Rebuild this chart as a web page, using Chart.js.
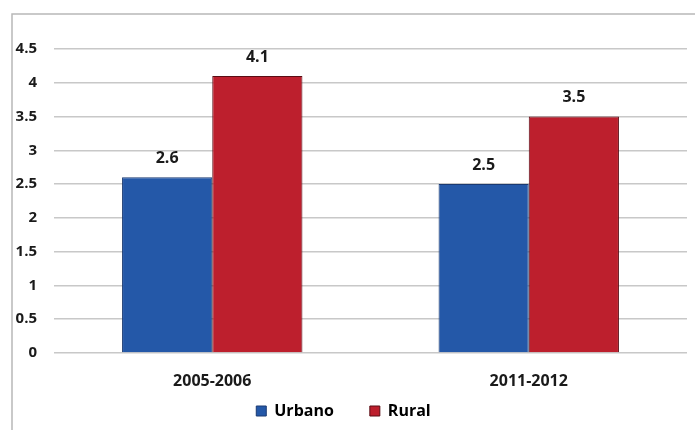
<!DOCTYPE html>
<html>
<head>
<meta charset="utf-8">
<script src="https://cdn.jsdelivr.net/npm/chart.js@4/dist/chart.umd.min.js"></script>
<style>
  html, body { margin: 0; padding: 0; background: #fff; }
  #wrap { width: 695px; height: 430px; position: relative; }
</style>
</head>
<body>
<div id="wrap"><canvas id="bars"></canvas></div>
<script>
const periods = ['2005-2006', '2011-2012'];
const urbano = [2.6, 2.5];
const rural = [4.1, 3.5];
const seriesNames = ['Urbano', 'Rural'];

const FONT = "'Open Sans', sans-serif";

// horizontal shading so the bars look rounded
function barFill(dark, mid, light) {
  return (ctx) => {
    const el = ctx.element;
    const chart = ctx.chart;
    if (!el || !chart.chartArea || !Number.isFinite(el.x) || !Number.isFinite(el.width)) return mid;
    const x0 = el.x - el.width / 2, x1 = el.x + el.width / 2;
    const g = chart.ctx.createLinearGradient(x0, 0, x1, 0);
    g.addColorStop(0, dark);
    g.addColorStop(0.06, mid);
    g.addColorStop(0.5, light);
    g.addColorStop(0.92, mid);
    g.addColorStop(1, dark);
    return g;
  };
}

// thin frame on the top and left of the picture
const frameLines = {
  id: 'frameLines',
  beforeDraw(chart) {
    const c = chart.ctx;
    c.save();
    c.strokeStyle = '#b8b8b8';
    c.lineWidth = 1.5;
    c.beginPath();
    c.moveTo(12, chart.height);
    c.lineTo(12, 14);
    c.lineTo(chart.width, 14);
    c.stroke();
    c.restore();
  }
};

// values above each bar, and the period names under the axis
// (drawn here because the x axis box is kept thin to leave room for the legend)
const textLabels = {
  id: 'textLabels',
  afterDatasetsDraw(chart) {
    const c = chart.ctx;
    const xs = chart.scales.x;
    c.save();
    c.font = 'bold 16px ' + FONT;
    c.fillStyle = '#1a1a1a';
    c.textAlign = 'center';
    c.textBaseline = 'bottom';
    chart.data.datasets.forEach((ds, i) => {
      chart.getDatasetMeta(i).data.forEach((bar, j) => {
        c.fillText(ds.data[j].toFixed(1), bar.x, bar.y - 11);
      });
    });
    c.textBaseline = 'middle';
    chart.data.labels.forEach((lab, i) => {
      c.fillText(lab, xs.getPixelForValue(i), chart.chartArea.bottom + 28);
    });
    c.restore();
  }
};

new Chart(document.getElementById('bars'), {
  type: 'bar',
  data: {
    labels: periods,
    datasets: [
      {
        label: seriesNames[0],
        data: urbano,
        backgroundColor: barFill('#1b3f7c', '#2458a8', '#2e68bf'),
        borderColor: '#1a3a72',
        borderWidth: 1,
        categoryPercentage: 0.57,
        barPercentage: 1.0
      },
      {
        label: seriesNames[1],
        data: rural,
        backgroundColor: barFill('#6e1018', '#bd1f2d', '#cc2534'),
        borderColor: '#5a0d14',
        borderWidth: 1,
        categoryPercentage: 0.57,
        barPercentage: 1.0
      }
    ]
  },
  options: {
    responsive: true,
    maintainAspectRatio: false,
    animation: false,
    layout: { padding: { top: 49, right: 8, left: 0, bottom: 1 } },
    scales: {
      x: {
        afterFit: (s) => { s.height = 14; },
        grid: { display: false },
        border: { display: false },
        ticks: { display: false }
      },
      y: {
        min: 0,
        max: 4.5,
        afterFit: (s) => { s.width = 54; },
        grid: { color: '#c8c8c8', lineWidth: 1.5, drawTicks: false },
        border: { display: false },
        ticks: {
          stepSize: 0.5,
          padding: 17,
          color: '#1a1a1a',
          font: { family: FONT, size: 15, weight: 'bold' },
          callback: (v) => String(v)
        }
      }
    },
    plugins: {
      tooltip: { enabled: false },
      legend: {
        position: 'bottom',
        labels: {
          color: '#1a1a1a',
          boxWidth: 10,
          boxHeight: 10,
          padding: 36,
          font: { family: FONT, size: 16, weight: 'bold' },
          generateLabels: (chart) => chart.data.datasets.map((ds, i) => ({
            text: ds.label,
            fillStyle: i === 0 ? '#2458a8' : '#bd1f2d',
            strokeStyle: i === 0 ? '#1a3a72' : '#5a0d14',
            lineWidth: 1,
            datasetIndex: i
          }))
        }
      }
    }
  },
  plugins: [frameLines, textLabels]
});
</script>
</body>
</html>
